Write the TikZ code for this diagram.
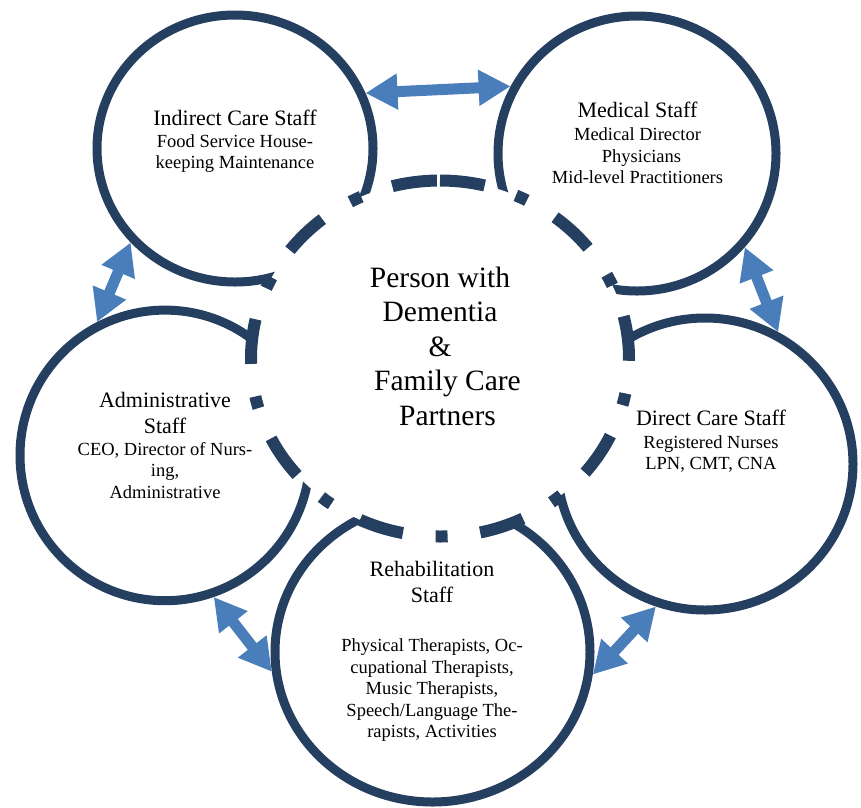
\documentclass[tikz,border=0pt]{standalone}
\usepackage{fontspec}
\setmainfont{Liberation Serif}
\usetikzlibrary{arrows.meta,shapes.geometric}
\definecolor{ringblue}{HTML}{243F60}
\definecolor{arrowblue}{HTML}{4A7EBB}
\newcommand{\headsize}{\fontsize{22}{26}\selectfont}
\begin{document}
\begin{tikzpicture}[x=1pt, y=-1pt,
        staff/.style={draw=ringblue, line width=9pt, ellipse, inner sep=0pt},
        stafftext/.style={align=center, font=\fontsize{18.5}{21.5}\selectfont},
        link/.style={draw=arrowblue, line width=11pt, {Triangle[width=34pt,length=32pt]}-{Triangle[width=34pt,length=32pt]}}]
    \useasboundingbox (0,0) rectangle (861,807);
    \node[staff, minimum width=276pt, minimum height=267pt] (indirect) at (235,148.5) {};
    \node[staff, minimum width=278pt, minimum height=275pt] (medical) at (637,153.5) {};
    \node[staff, minimum width=290pt, minimum height=290.6pt] (admin) at (165,455.4) {};
    \node[staff, minimum width=296pt, minimum height=292pt] (direct) at (705,464) {};
    \node[staff, minimum width=315pt, minimum height=300pt] (rehab) at (432.5,652) {};
    \path[draw=ringblue, line width=12pt, fill=white, dash pattern=on 45pt off 32.9pt on 12pt off 32.9pt]
        (440,180.5) arc[start angle=-90, end angle=270, x radius=189, y radius=178];
    \node[align=center, font=\fontsize{29.5}{34.5}\selectfont] (core) at (440,346)
        {Person with\\Dementia\\\&\\\hspace*{15pt}Family Care\\\hspace*{15pt}Partners};
    \node[stafftext] (indirect-text) at (235,141)
        {{\headsize Indirect Care Staff}\\[0.5pt]Food Service House-\\keeping Maintenance};
    \node[stafftext] (medical-text) at (637.5,143)
        {{\headsize Medical Staff}\\[1.5pt]Medical Director\\\hspace*{8pt}Physicians\\Mid-level Practitioners};
    \node[stafftext] (admin-text) at (165,445)
        {{\headsize Administrative}\\[4.5pt]{\headsize Staff}\\[0.5pt]CEO, Director of Nurs-\\ing,\\Administrative};
    \node[stafftext] (direct-text) at (711,441)
        {{\headsize Direct Care Staff}\\[1.5pt]Registered Nurses\\LPN, CMT, CNA};
    \node[stafftext] (rehab-text) at (432,651.4)
        {{\headsize Rehabilitation}\\[4.5pt]{\headsize Staff}\\[27.5pt]Physical Therapists, Oc-\\cupational Therapists,\\Music Therapists,\\Speech/Language The-\\rapists, Activities};
    \draw[link] (indirect.23.4) -- (medical.152);
    \draw[link] (indirect.222.6) -- (admin.117.4);
    \draw[link] (medical.-41.2) -- (direct.61.7);
    \draw[link] (admin.-71.6) -- (rehab.187);
    \draw[link] (rehab.-8.1) -- (direct.251.3);
\end{tikzpicture}
\end{document}
